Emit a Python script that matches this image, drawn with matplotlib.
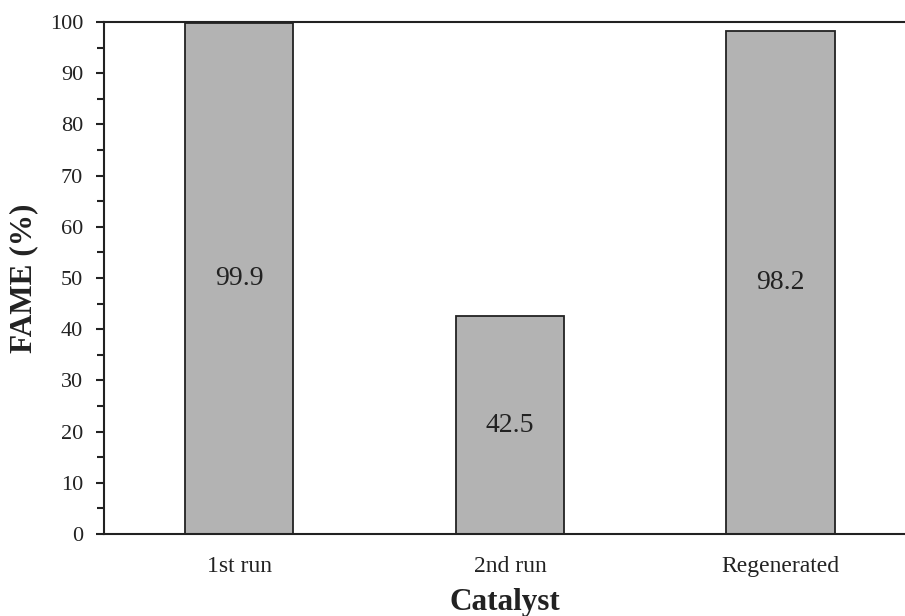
import numpy as np
from matplotlib import pyplot as plt

categories = ['1st run', '2nd run', 'Regenerated']
fame = [99.9, 42.5, 98.2]
bar_labels = ['99.9', '42.5', '98.2']

plt.rcParams['font.family'] = ['Liberation Serif', 'DejaVu Serif']

fig = plt.figure(figsize=(9.05, 6.16), dpi=100)
ax = fig.add_axes([0.1149, 0.1331, 0.8851, 0.8312])

x = np.arange(len(categories))
ax.bar(x, fame, width=0.4, color='#b3b3b3', edgecolor='#222222', linewidth=1.3)

# value labels sit half way up each bar
for xi, v, lab in zip(x, fame, bar_labels):
    ax.text(xi, v / 2, lab, ha='center', va='center', fontsize=20, color='#222222')

ax.set_xlim(-0.5, 2.46)
ax.set_ylim(0, 100)
ax.set_xticks(x)
ax.set_xticklabels(categories)
ax.set_yticks(np.arange(0, 101, 10))
ax.set_yticks(np.arange(5, 100, 10), minor=True)

ax.spines['right'].set_visible(False)
for s in ['left', 'bottom', 'top']:
    ax.spines[s].set_linewidth(1.5)
    ax.spines[s].set_color('#222222')

ax.tick_params(axis='y', which='major', direction='out', length=6, width=1.5,
               labelsize=16, pad=9, colors='#222222')
ax.tick_params(axis='y', which='minor', direction='out', length=5, width=1.5,
               colors='#222222')
ax.tick_params(axis='x', length=0, labelsize=17, pad=15.5, colors='#222222')

ax.set_ylabel('FAME (%)', fontsize=22.5, fontweight='bold', color='#222222', labelpad=8)
ax.set_xlabel('Catalyst', fontsize=22.5, fontweight='bold', color='#222222', labelpad=8)

fig.savefig('out.png', dpi=100)
